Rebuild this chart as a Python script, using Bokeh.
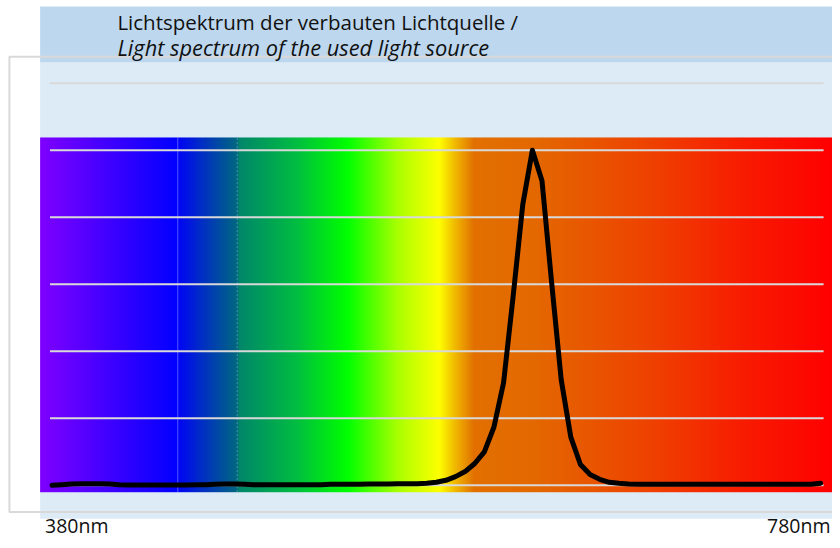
import numpy as np
from bokeh.plotting import figure
from bokeh.models import Range1d, Label, ColumnDataSource
from bokeh.embed import file_html
from bokeh.resources import INLINE

# ---------------- data ----------------
wavelength_nm = list(range(380, 785, 5))
intensity = [
    0.000, 0.002, 0.004, 0.005, 0.005, 0.005, 0.004, 0.002, 0.001, 0.001,   # 380-425
    0.001, 0.001, 0.001, 0.001, 0.001, 0.002, 0.002, 0.003, 0.004, 0.004,   # 430-475
    0.003, 0.002, 0.002, 0.002, 0.002, 0.002, 0.002, 0.002, 0.002, 0.003,   # 480-525
    0.003, 0.003, 0.003, 0.004, 0.004, 0.004, 0.005, 0.005, 0.005, 0.006,   # 530-575
    0.009, 0.015, 0.026, 0.041, 0.065, 0.100, 0.174, 0.306, 0.565, 0.838,   # 580-625
    1.000, 0.909, 0.606, 0.315, 0.144, 0.062, 0.032, 0.018, 0.009, 0.006,   # 630-675
    0.004, 0.003, 0.003, 0.003, 0.003, 0.003, 0.003, 0.003, 0.003, 0.003,   # 680-725
    0.003, 0.003, 0.003, 0.003, 0.003, 0.003, 0.003, 0.003, 0.003, 0.003,   # 730-775
    0.006,                                                                  # 780
]
grid_values = [0.0, 0.2, 0.4, 0.6, 0.8, 1.0, 1.2]
title_de = "Lichtspektrum der verbauten Lichtquelle /"
title_en = "Light spectrum of the used light source"
x_labels = ["380nm", "780nm"]

# ---------------- layout helpers (reference-image pixels -> data) ----------------
W, H = 832, 540
REF_W, REF_H = 840, 548


def X(r):
    return 380 + (r - 52) * 400.0 / 776.0


def Y(r):
    return (492 - r) / 340.0


p = figure(width=W, height=H, x_range=Range1d(X(0), X(REF_W)), y_range=Range1d(Y(REF_H), Y(0)),
           x_axis_type=None, y_axis_type=None, toolbar_location=None,
           output_backend="svg", min_border=0, outline_line_color=None,
           background_fill_color="white", border_fill_color="white")

# background bands
p.quad(left=X(40), right=X(850), top=Y(63), bottom=Y(526), fill_color="#DDEBF7", line_color=None)
p.quad(left=X(40), right=X(850), top=Y(6), bottom=Y(63), fill_color="#BDD7EE", line_color=None)
# outer frame
p.quad(left=X(9), right=X(900), top=Y(57), bottom=Y(519), fill_color=None,
       line_color="#D9D9D9", line_width=2)

# spectrum gradient
stops_px = [40, 179, 181, 239, 241, 300, 350, 400, 443, 460, 478, 540, 650, 750, 840]
stops_rgb = [(127, 0, 255), (0, 0, 255), (0, 10, 240), (0, 105, 128), (0, 135, 106),
             (0, 192, 64), (0, 255, 0), (168, 255, 0), (255, 255, 0), (240, 180, 0),
             (226, 112, 0), (228, 104, 0), (238, 68, 0), (248, 28, 0), (255, 0, 0)]
N = 800
cols = np.linspace(40, 840, N)
img = np.zeros((1, N), dtype=np.uint32)
view = img.view(dtype=np.uint8).reshape((1, N, 4))
for c in range(3):
    view[0, :, c] = np.interp(cols, stops_px, [s[c] for s in stops_rgb]).astype(np.uint8)
view[0, :, 3] = 255
p.image_rgba(image=[img], x=X(40), y=Y(499), dw=X(840) - X(40), dh=Y(139) - Y(499))

# vertical separators in the gradient
p.segment(x0=[X(179)], x1=[X(179)], y0=[Y(499)], y1=[Y(139)], line_color="white",
          line_alpha=0.35, line_width=1)
p.segment(x0=[X(239)], x1=[X(239)], y0=[Y(499)], y1=[Y(139)], line_color="#9fd8d0",
          line_alpha=0.45, line_width=1, line_dash="2 2")

# horizontal gridlines
p.segment(x0=[X(50)] * len(grid_values), x1=[X(831)] * len(grid_values),
          y0=grid_values, y1=grid_values, line_color="#D9D9D9", line_width=2)

# spectrum curve
src = ColumnDataSource(dict(x=wavelength_nm, y=intensity))
p.line("x", "y", source=src, line_color="black", line_width=5,
       line_join="round", line_cap="round")

# texts
FONT = "Open Sans"
p.add_layout(Label(x=X(118), y=Y(22), text=title_de, text_font=FONT,
                   text_font_size="20.5px", text_color="#111111", text_baseline="alphabetic"))
p.add_layout(Label(x=X(118), y=Y(48), text=title_en, text_font=FONT, text_font_style="italic",
                   text_font_size="21.8px", text_color="#111111", text_baseline="alphabetic"))
p.add_layout(Label(x=X(45), y=Y(533), text=x_labels[0], text_font=FONT,
                   text_font_size="19.5px", text_color="#111111", text_baseline="alphabetic"))
p.add_layout(Label(x=X(838), y=Y(533), text=x_labels[1], text_font=FONT, text_align="right",
                   text_font_size="19.5px", text_color="#111111", text_baseline="alphabetic"))

open("out.html", "w").write(file_html(p, INLINE))
